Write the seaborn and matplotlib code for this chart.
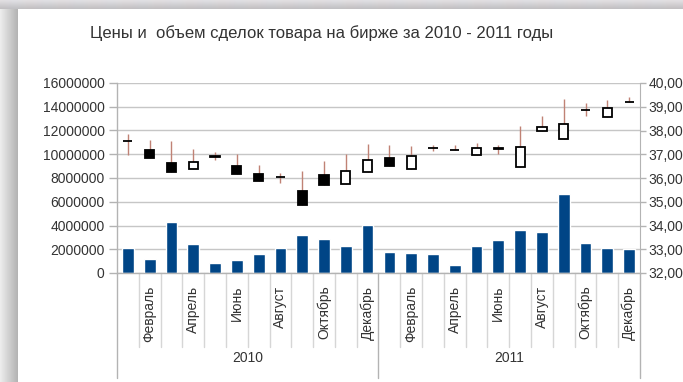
import numpy as np
import pandas as pd
import matplotlib
matplotlib.use("Agg")
import matplotlib.pyplot as plt
from matplotlib.ticker import FuncFormatter, MultipleLocator
import seaborn as sns

# --- data -------------------------------------------------------------------
years = ["2010", "2011"]
months = ["Январь", "Февраль", "Март", "Апрель", "Май", "Июнь",
          "Июль", "Август", "Сентябрь", "Октябрь", "Ноябрь", "Декабрь"]

# monthly trade volume (left axis)
volume = [2080000, 1180000, 4270000, 2470000, 870000, 1100000,
          1600000, 2080000, 3200000, 2890000, 2300000, 4070000,
          1800000, 1710000, 1630000, 670000, 2300000, 2750000,
          3620000, 3480000, 6680000, 2530000, 2130000, 2050000]

# monthly prices (right axis)
price_open = [37.57, 37.19, 36.63, 36.39, 36.92, 36.52, 36.18, 36.05,
              35.44, 36.11, 35.76, 36.25, 36.84, 36.39, 37.26, 37.19,
              36.98, 37.28, 36.46, 37.99, 37.65, 38.88, 38.57, 39.20]
price_high = [37.85, 37.61, 37.54, 37.22, 37.08, 37.02, 36.56, 36.21,
              36.28, 36.70, 37.01, 37.43, 37.39, 37.36, 37.40, 37.38,
              37.47, 37.40, 38.21, 38.62, 39.33, 39.16, 39.30, 39.41]
price_low = [36.98, 36.84, 36.24, 36.39, 36.77, 36.18, 35.86, 35.81,
             34.85, 35.72, 35.76, 36.25, 36.49, 36.39, 37.12, 37.19,
             36.98, 37.01, 36.46, 37.99, 37.65, 38.62, 38.57, 39.20]
price_close = [37.57, 36.84, 36.24, 36.66, 36.90, 36.18, 35.86, 36.03,
               34.85, 35.72, 36.31, 36.77, 36.49, 36.91, 37.26, 37.19,
               37.26, 37.24, 37.31, 38.13, 38.29, 38.88, 38.95, 39.20]

title = "Цены и  объем сделок товара на бирже за 2010 - 2011 годы"

# --- styling ----------------------------------------------------------------
sns.set_style("white")
plt.rcParams["font.family"] = ["Liberation Sans", "DejaVu Sans"]

W, H = 683, 382
fig = plt.figure(figsize=(W / 100, H / 100), dpi=100)
fig.patch.set_facecolor("white")

# soft surrounding window edge: grey strip on the left, blurred band on top
edge_l = fig.add_axes([0, 0, 18 / W, 1])
edge_l.imshow(np.linspace(0.93, 0.70, 64)[None, :], cmap="gray", vmin=0, vmax=1,
              aspect="auto", interpolation="bicubic")
edge_l.axis("off")
edge_t = fig.add_axes([0, 1 - 9 / H, 1, 9 / H])
band = np.zeros((8, 64, 3))
tint = np.array([[0.90, 0.86, 0.88], [0.86, 0.88, 0.92], [0.92, 0.87, 0.86]])
for i in range(64):
    band[:, i, :] = tint[i % 3] * 0.3 + 0.7 * np.array([0.88, 0.88, 0.89])
band *= np.linspace(1.0, 0.86, 8)[:, None, None]
edge_t.imshow(band, aspect="auto", interpolation="bicubic")
edge_t.axis("off")

x0, x1 = 117, 640
y_top, y_bot = 83, 273
ax = fig.add_axes([x0 / W, 1 - y_bot / H, (x1 - x0) / W, (y_bot - y_top) / H])

keys = [f"{y}-{m}" for y in years for m in months]
df = pd.DataFrame({"period": keys, "volume": volume})
sns.barplot(data=df, x="period", y="volume", order=keys, color="#004586",
            saturation=1, width=0.54, ax=ax, zorder=2)

grid_c = "#c6c6c6"
axis_c = "#b3b3b3"
ax.set_ylim(0, 16000000)
ax.set_xlim(-0.5, len(keys) - 0.5)
ax.yaxis.set_major_locator(MultipleLocator(2000000))
ax.yaxis.set_major_formatter(FuncFormatter(lambda v, p: f"{int(v)}"))
ax.yaxis.grid(True, color=grid_c, lw=1)
ax.set_axisbelow(True)
ax.set_xlabel("")
ax.set_ylabel("")
for s in ["top", "right"]:
    ax.spines[s].set_visible(False)
for s in ["left", "bottom"]:
    ax.spines[s].set_color(axis_c)
    ax.spines[s].set_linewidth(1)
ax.tick_params(axis="y", length=6, width=1, color=axis_c, labelsize=10,
               labelcolor="#333333", pad=3)

# month labels on every second month, rotated
ax.set_xticks(range(len(keys)))
ax.set_xticklabels([m if i % 2 == 1 else "" for i, m in enumerate(months * 2)],
                   rotation=90, fontsize=10, color="#333333", va="top")
ax.tick_params(axis="x", length=0, pad=9)

# category separators and year groups
xt = ax.get_xaxis_transform()
for k in range(len(keys) + 1):
    xb = k - 0.5
    if k % 12 == 0:
        ax.plot([xb, xb], [0, -(378 - y_bot) / (y_bot - y_top)], transform=xt,
                color=axis_c, lw=1, clip_on=False)
    else:
        ax.plot([xb, xb], [0, -(347 - y_bot) / (y_bot - y_top)], transform=xt,
                color="#d6d6d6", lw=1, clip_on=False)
for j, y in enumerate(years):
    ax.text(j * 12 + 5.5, -(358 - y_bot) / (y_bot - y_top), y, transform=xt,
            ha="center", va="center", fontsize=10, color="#333333")

# price candles on the right axis
ax2 = ax.twinx()
ax2.set_ylim(32, 40)
ax2.yaxis.set_major_locator(MultipleLocator(1))
ax2.yaxis.set_major_formatter(FuncFormatter(lambda v, p: f"{v:.2f}".replace(".", ",")))
for s in ["top", "left", "bottom"]:
    ax2.spines[s].set_visible(False)
ax2.spines["right"].set_color(axis_c)
ax2.tick_params(axis="y", length=4, width=1, color=axis_c, labelsize=10,
                labelcolor="#333333", pad=2)

xs = np.arange(len(keys))
o = np.array(price_open)
c = np.array(price_close)
ax2.vlines(xs, price_low, price_high, color="#c08275", lw=1, zorder=2)
body_bottom = np.minimum(o, c)
body_h = np.abs(c - o)
body_col = ["black" if cc < oo else "white" for oo, cc in zip(o, c)]
ax2.bar(xs, body_h, bottom=body_bottom, width=0.42, color=body_col,
        edgecolor="black", linewidth=1.3, zorder=3)

fig.text(322 / W, 1 - 33 / H, title, ha="center", va="center", fontsize=12,
         color="#333333")

fig.savefig("out.png", dpi=100)
